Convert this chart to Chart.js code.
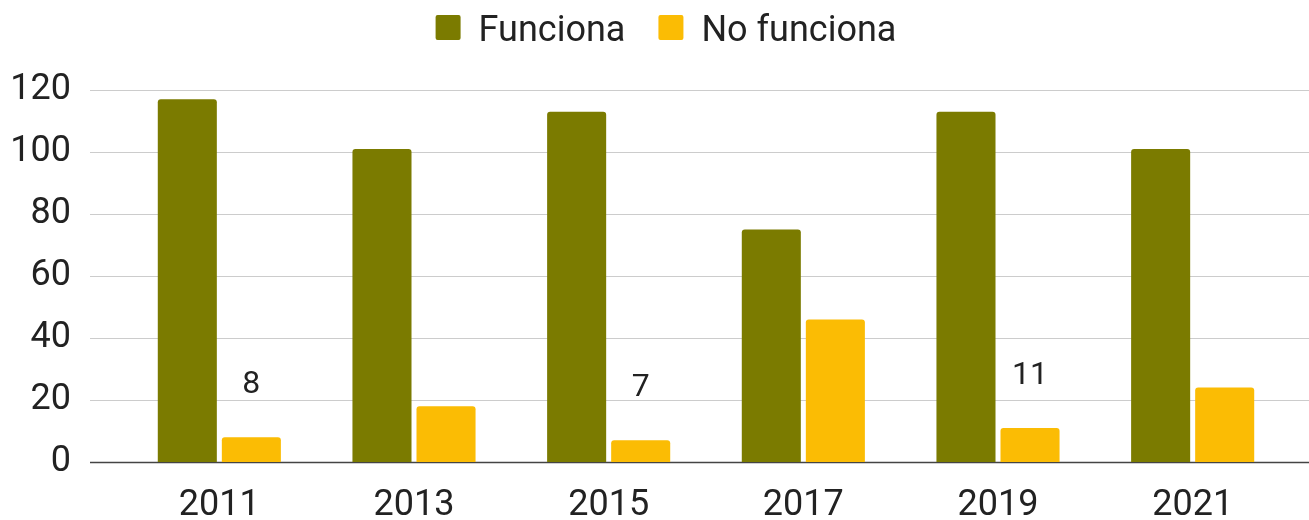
<!DOCTYPE html>
<html>
<head>
<meta charset="utf-8">
<script src="https://cdn.jsdelivr.net/npm/chart.js@4"></script>
<style>
html,body{margin:0;padding:0;background:#fff;overflow:hidden;}
#wrap{width:1309px;height:520px;position:relative;}
</style>
</head>
<body>
<div id="wrap"><canvas id="c"></canvas></div>
<script>
const categories = ['2011', '2013', '2015', '2017', '2019', '2021'];
const funciona = [117, 101, 113, 75, 113, 101];
const noFunciona = [8, 18, 7, 46, 11, 24];
const noFuncionaLabels = ['8', '', '7', '', '11', ''];
const seriesNames = ['Funciona', 'No funciona'];
const seriesColors = ['#7b7b00', '#fbbc04'];
const yTicks = [0, 20, 40, 60, 80, 100, 120];

const FONT = 'Roboto, "Liberation Sans", Arial, sans-serif';
const TEXT = '#222222';

const gridPlugin = {
  id: 'gridPlugin',
  beforeDatasetsDraw(chart) {
    const ctx = chart.ctx;
    const y = chart.scales.y;
    ctx.save();
    yTicks.forEach(v => {
      const py = Math.round(y.getPixelForValue(v)) + 0.5;
      ctx.beginPath();
      ctx.moveTo(90, py);
      ctx.lineTo(1309, py);
      if (v === 0) { ctx.strokeStyle = '#444444'; ctx.lineWidth = 1.6; }
      else { ctx.strokeStyle = '#cccccc'; ctx.lineWidth = 1.2; }
      ctx.stroke();
    });
    ctx.restore();
  },
  afterDatasetsDraw(chart) {
    const ctx = chart.ctx;
    const meta = chart.getDatasetMeta(1);
    ctx.save();
    ctx.fillStyle = TEXT;
    ctx.font = '32px ' + FONT;
    ctx.textAlign = 'center';
    ctx.textBaseline = 'middle';
    meta.data.forEach((bar, i) => {
      const t = noFuncionaLabels[i];
      if (t) ctx.fillText(t, bar.x, bar.y - 52);
    });
    ctx.restore();
  },
  afterDraw(chart) {
    const ctx = chart.ctx;
    ctx.save();
    ctx.font = '36px ' + FONT;
    const box = 25, gapText = 18, gapItem = 33;
    const widths = seriesNames.map(n => ctx.measureText(n).width);
    let total = 0;
    widths.forEach((w, i) => { total += box + gapText + w + (i < widths.length - 1 ? gapItem : 0); });
    let x = 666 - total / 2;
    ctx.textBaseline = 'alphabetic';
    ctx.textAlign = 'left';
    seriesNames.forEach((n, i) => {
      ctx.fillStyle = seriesColors[i];
      ctx.beginPath();
      ctx.roundRect(x, 15, box, box, 2);
      ctx.fill();
      ctx.fillStyle = TEXT;
      ctx.fillText(n, x + box + gapText, 41);
      x += box + gapText + widths[i] + gapItem;
    });
    ctx.restore();
  }
};

new Chart(document.getElementById('c'), {
  type: 'bar',
  data: {
    labels: categories,
    datasets: [
      { label: seriesNames[0], data: funciona, backgroundColor: seriesColors[0],
        borderRadius: {topLeft: 3, topRight: 3}, borderSkipped: 'bottom',
        categoryPercentage: 0.658, barPercentage: 0.922 },
      { label: seriesNames[1], data: noFunciona, backgroundColor: seriesColors[1],
        borderRadius: {topLeft: 3, topRight: 3}, borderSkipped: 'bottom',
        categoryPercentage: 0.658, barPercentage: 0.922 }
    ]
  },
  options: {
    responsive: true,
    maintainAspectRatio: false,
    animation: false,
    devicePixelRatio: 1,
    layout: { padding: { left: 0, right: 19, top: 90, bottom: 0 } },
    plugins: {
      legend: { display: false },
      tooltip: { enabled: false }
    },
    scales: {
      x: {
        grid: { display: false, drawTicks: false },
        border: { display: false },
        afterFit(scale) { scale.height = 58; },
        ticks: { font: { size: 36, family: FONT }, color: TEXT, padding: 22, maxRotation: 0 }
      },
      y: {
        min: 0, max: 120,
        grid: { display: false, drawTicks: false },
        border: { display: false },
        afterFit(scale) { scale.width = 122; scale.paddingTop = 0; scale.paddingBottom = 0; },
        ticks: { stepSize: 20, font: { size: 36, family: FONT }, color: TEXT, padding: 51 }
      }
    }
  },
  plugins: [gridPlugin]
});
</script>
</body>
</html>
